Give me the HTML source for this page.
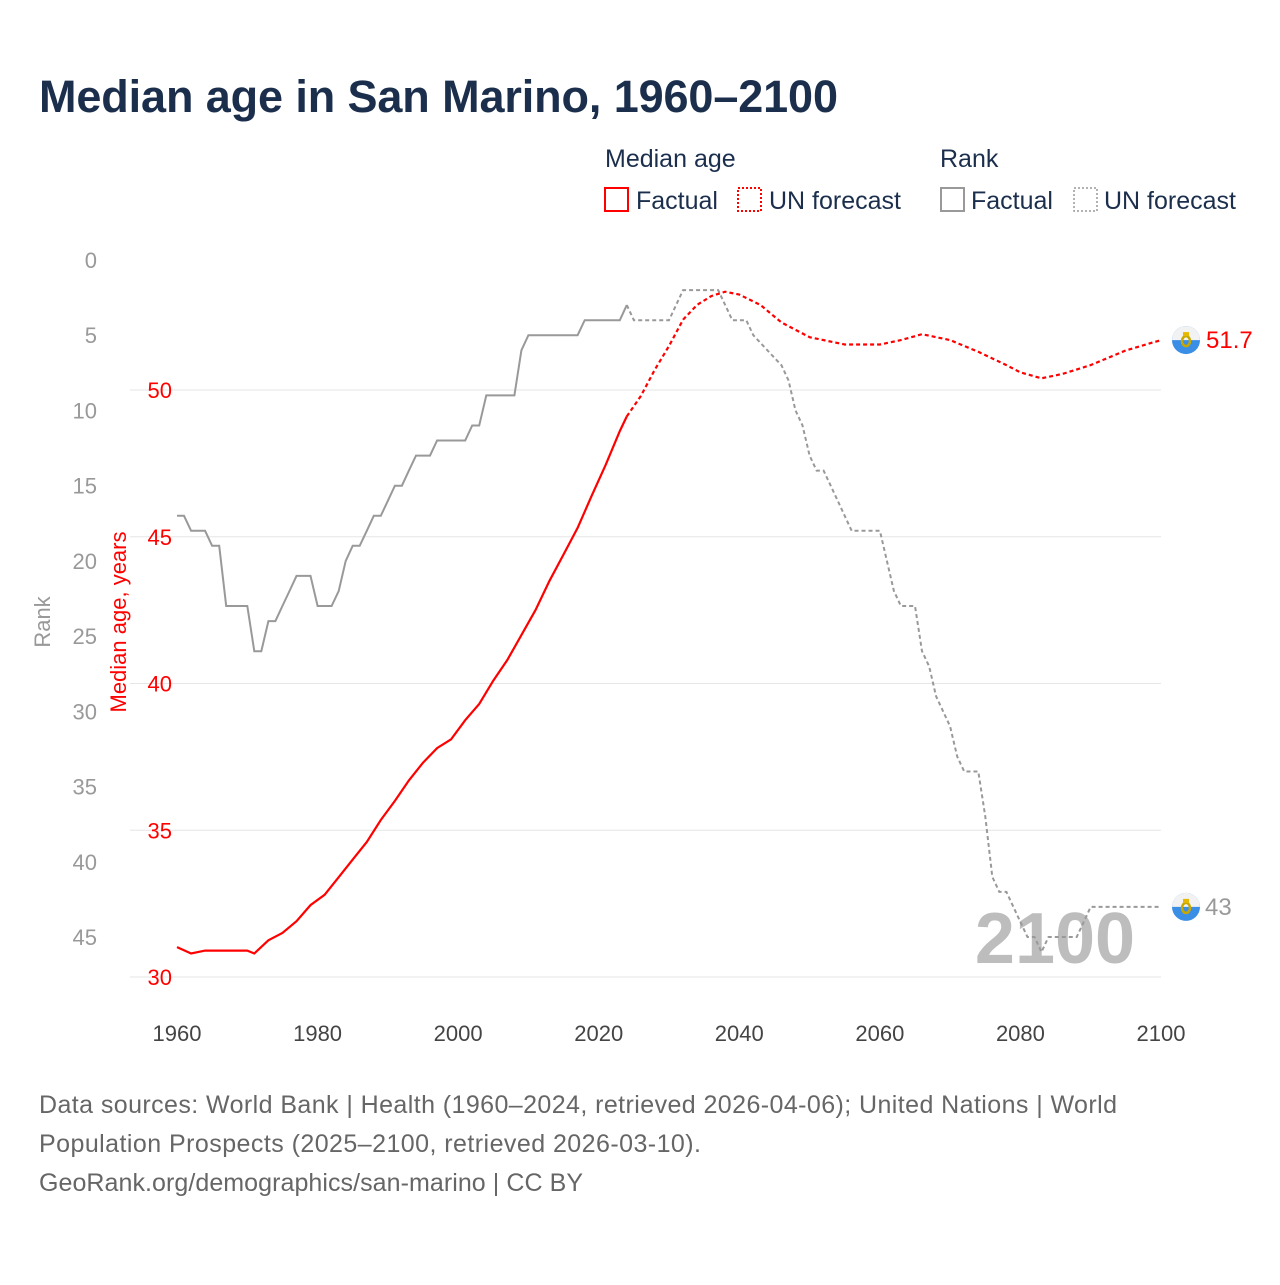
<!DOCTYPE html>
<html><head><meta charset="utf-8"><style>
body{margin:0;background:#fff;width:1280px;height:1280px;overflow:hidden;font-family:"Liberation Sans",sans-serif}
svg text{font-family:"Liberation Sans",sans-serif}
</style></head><body>
<svg id="c" width="1280" height="1280">
<text x="39" y="112" font-size="45" font-weight="bold" fill="#1b2f4d" textLength="799">Median age in San Marino, 1960–2100</text>
<g font-size="25" fill="#1b2f4d">
<text x="605" y="167">Median age</text>
<text x="940" y="167">Rank</text>
<rect x="605" y="188" width="23" height="23" fill="none" stroke="#ff0000" stroke-width="2"/>
<text x="636" y="209">Factual</text>
<rect x="738" y="188" width="23" height="23" fill="none" stroke="#ff0000" stroke-width="2" stroke-dasharray="2,2"/>
<text x="769" y="209">UN forecast</text>
<rect x="941" y="188" width="23" height="23" fill="none" stroke="#999" stroke-width="2"/>
<text x="971" y="209">Factual</text>
<rect x="1074" y="188" width="23" height="23" fill="none" stroke="#999" stroke-width="1.5" stroke-dasharray="2,2"/>
<text x="1104" y="209">UN forecast</text>
</g>
<text x="1055" y="963" font-size="72" font-weight="bold" fill="#bdbdbd" text-anchor="middle">2100</text>
<g id="plot"></g>
<text transform="translate(50,622) rotate(-90)" font-size="22" fill="#999" text-anchor="middle">Rank</text>
<text transform="translate(126,622) rotate(-90)" font-size="22" fill="#ff0000" text-anchor="middle">Median age, years</text>
<g font-size="25" fill="#666">
<text x="39" y="1113" textLength="1078">Data sources: World Bank | Health (1960–2024, retrieved 2026-04-06); United Nations | World</text>
<text x="39" y="1152" textLength="662">Population Prospects (2025–2100, retrieved 2026-03-10).</text>
<text x="39" y="1191" textLength="544">GeoRank.org/demographics/san-marino | CC BY</text>
</g>
</svg>
<script>
const ageFactYears=[1960,1962,1964,1970,1971,1973,1975,1977,1979,1981,1983,1985,1987,1989,1991,1993,1995,1997,1999,2001,2003,2005,2007,2009,2011,2013,2015,2017,2019,2021,2023,2024];
const ageFact=[31.02,30.8,30.9,30.9,30.8,31.25,31.5,31.9,32.45,32.8,33.4,34.0,34.6,35.35,36.0,36.7,37.3,37.8,38.1,38.75,39.3,40.1,40.8,41.65,42.5,43.5,44.4,45.3,46.4,47.45,48.6,49.1];
const ageFcYears=[2024,2026,2028,2030,2032,2034,2036,2038,2040,2043,2046,2050,2055,2060,2063,2066,2070,2074,2078,2080,2083,2086,2090,2095,2100];
const ageFc=[49.1,49.8,50.7,51.5,52.4,52.9,53.2,53.35,53.25,52.9,52.3,51.8,51.55,51.55,51.7,51.9,51.7,51.3,50.85,50.6,50.4,50.55,50.85,51.35,51.7];
const rankFactYears=[1960,1961,1962,1964,1965,1966,1967,1970,1971,1972,1973,1974,1975,1976,1977,1979,1980,1982,1983,1984,1985,1986,1987,1988,1989,1990,1991,1992,1993,1994,1996,1997,2001,2002,2003,2004,2008,2009,2010,2017,2018,2023,2024];
const rankFact=[17,17,18,18,19,19,23,23,26,26,24,24,23,22,21,21,23,23,22,20,19,19,18,17,17,16,15,15,14,13,13,12,12,11,11,9,9,6,5,5,4,4,3];
const rankFcYears=[2024,2025,2030,2032,2037,2039,2041,2042,2044,2046,2047,2048,2049,2050,2051,2052,2053,2054,2055,2056,2060,2061,2062,2063,2065,2066,2067,2068,2069,2070,2071,2072,2074,2075,2076,2077,2078,2079,2080,2081,2082,2083,2084,2088,2089,2090,2100];
const rankFc=[3,4,4,2,2,4,4,5,6,7,8,10,11,13,14,14,15,16,17,18,18,20,22,23,23,26,27,29,30,31,33,34,34,37,41,42,42,43,44,45,45,46,45,45,44,43,43];
const xTicks=[1960,1980,2000,2020,2040,2060,2080,2100];
const ageTicks=[30,35,40,45,50];
const rankTicks=[0,5,10,15,20,25,30,35,40,45];
const X=y=>177+(y-1960)*(984/140);
const YA=v=>977-(v-30)*(587/20);
const YR=r=>260+r*(677/45);
const NS="http://www.w3.org/2000/svg";
const g=document.getElementById('plot');
function mk(t,a,parent){const e=document.createElementNS(NS,t);for(const k in a)e.setAttribute(k,a[k]);(parent||g).appendChild(e);return e;}
ageTicks.forEach(v=>{
 const l=mk('line',{x1:130,x2:1161,y1:YA(v),y2:YA(v),stroke:'#e6e6e6','stroke-width':1});
 
 
 const t=mk('text',{x:172,y:YA(v)+8,'font-size':22,fill:'#ff0000','text-anchor':'end'});t.textContent=v;
 
 
});
rankTicks.forEach(v=>{
 const t=mk('text',{x:97,y:YR(v)+8,'font-size':22,fill:'#999','text-anchor':'end'});t.textContent=v;
 
 
});
xTicks.forEach(v=>{
 const t=mk('text',{x:X(v),y:1041,'font-size':22,fill:'#444','text-anchor':'middle'});t.textContent=v;
 
 
});
function rankPath(ys,vs){return ys.map((y,i)=>(i?'L':'M')+X(y).toFixed(1)+','+YR(vs[i]).toFixed(1)).join(' ');}
function linePath(ys,vs){return ys.map((y,i)=>(i?'L':'M')+X(y).toFixed(1)+','+YA(vs[i]).toFixed(1)).join(' ');}
let p=mk('path',{d:rankPath(rankFactYears,rankFact),fill:'none',stroke:'#999','stroke-width':2});


p=mk('path',{d:rankPath(rankFcYears,rankFc),fill:'none',stroke:'#999','stroke-width':2,'stroke-dasharray':'4,3'});


p=mk('path',{d:linePath(ageFactYears,ageFact),fill:'none',stroke:'#ff0000','stroke-width':2.2});


p=mk('path',{d:linePath(ageFcYears,ageFc),fill:'none',stroke:'#ff0000','stroke-width':2.2,'stroke-dasharray':'4,3'});


function flag(cy,name){
 const fg=mk('g',{});
 
 
 mk('circle',{cx:1186,cy:cy,r:14,fill:'#3a8ee6'},fg);
 mk('path',{d:`M1172,${cy} A14,14 0 0 1 1200,${cy} Z`,fill:'#f2f2f2'},fg);
 mk('ellipse',{cx:1186,cy:cy+1,rx:4,ry:5,fill:'none',stroke:'#c8a800','stroke-width':2.5},fg);
 mk('rect',{x:1183,y:cy-8,width:6,height:4,fill:'#e8b800'},fg);
}
flag(YA(ageFc[ageFc.length-1]),'median-age-end-flag');
flag(YR(rankFc[rankFc.length-1]),'rank-end-flag');
let t=mk('text',{x:1206,y:YA(ageFc[ageFc.length-1])+8,'font-size':24,fill:'#ff0000'});t.textContent=ageFc[ageFc.length-1];


t=mk('text',{x:1205,y:YR(rankFc[rankFc.length-1])+8,'font-size':24,fill:'#999'});t.textContent=rankFc[rankFc.length-1];


</script>
</body></html>
